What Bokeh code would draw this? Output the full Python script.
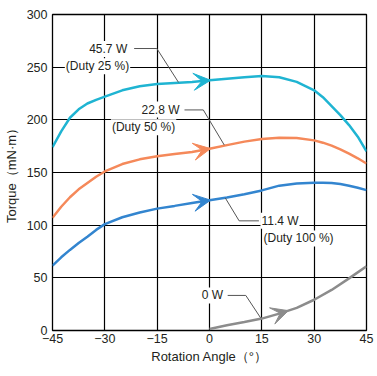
import numpy as np
from bokeh.plotting import figure
from bokeh.models import Label, Arrow, VeeHead, FixedTicker
from bokeh.embed import file_html
from bokeh.resources import INLINE

# ---- data ----
angles = [-45, -42.5, -40, -37.5, -35, -32.5, -30, -25, -20, -15, -10, -5, 0, 5, 10, 15, 20, 25,
          30, 32.5, 35, 37.5, 40, 42.5, 45]
torque_45_7W = [174, 189, 202, 210, 215.5, 219, 222, 228, 231.8, 234, 235, 236, 237.5, 239, 240.5, 241.5, 240.5, 236,
                228, 221.5, 213, 204.5, 195, 184, 170]
torque_22_8W = [107, 117.5, 126.5, 134, 140, 146, 151, 158, 162.5, 165.5, 167.5, 169.5, 172.5, 176, 179.3, 181.7, 183, 182.8,
                180.5, 178.3, 175.5, 172, 168, 163.5, 158.5]
torque_11_4W = [61.5, 69.5, 76.5, 83, 89, 95.5, 101, 107.5, 112, 115.7, 118.3, 121, 123.6, 126.3, 129.3, 133, 137.5, 139.5,
                140.3, 140.3, 140, 139, 137.5, 135.5, 133.3]
angles_0W = [0, 5, 10, 15, 20, 25, 30, 35, 40, 45]
torque_0W = [1.5, 5, 8, 11.3, 16, 21.5, 29.2, 38.5, 49.5, 61]

x_ticks = [-45, -30, -15, 0, 15, 30, 45]
x_tick_labels = ["\u221245", "\u221230", "\u221215", "0", "15", "30", "45"]
y_ticks = [0, 50, 100, 150, 200, 250, 300]

series_names = ["45.7 W", "22.8 W", "11.4 W", "0 W"]
duty_names = ["(Duty 25 %)", "(Duty 50 %)", "(Duty 100 %)"]
arrow_at = [0.3, 0.3, 0.3, 22.6]

# ---- styling / layout ----
colors = ["#1fb4d2", "#f5895a", "#3385cf", "#8c8c8c"]
FONT = "Liberation Sans"
TXT = "#231f20"

p = figure(width=377, height=376, x_range=(-45, 45), y_range=(0, 300),
           output_backend="svg", toolbar_location=None,
           min_border_left=49, min_border_right=11, min_border_top=14, min_border_bottom=46)

p.xaxis.ticker = FixedTicker(ticks=x_ticks)
p.yaxis.ticker = FixedTicker(ticks=y_ticks)
p.xaxis.major_label_overrides = {t: l for t, l in zip(x_ticks, x_tick_labels)}
for ax in p.axis:
    ax.axis_line_color = None
    ax.major_tick_line_color = None
    ax.minor_tick_line_color = None
    ax.major_tick_in = 0
    ax.major_tick_out = 0
    ax.major_label_text_font = FONT
    ax.major_label_text_font_size = "12.5px"
    ax.major_label_text_color = TXT
    ax.axis_label_text_font = FONT
    ax.axis_label_text_font_size = "13px"
    ax.axis_label_text_font_style = "normal"
    ax.axis_label_text_color = TXT
p.xaxis.axis_label = "Rotation Angle\uff08\u00b0\uff09"
p.yaxis.axis_label = "Torque\uff08mN\u00b7m\uff09"
p.xaxis.major_label_standoff = 3
p.xaxis.axis_label_standoff = 3
p.yaxis.major_label_standoff = 5
p.yaxis.axis_label_standoff = 5

p.grid.grid_line_color = "black"
p.grid.grid_line_width = 1.2
p.outline_line_color = "black"
p.outline_line_width = 1.3
p.outline_line_alpha = 1

# curves
curves = [(angles, torque_45_7W), (angles, torque_22_8W), (angles, torque_11_4W), (angles_0W, torque_0W)]
for (xs, ys), c in zip(curves, colors):
    p.line(xs, ys, line_color=c, line_width=2.5)

# arrowheads on curves
for (xs, ys), c, pos in zip(curves, colors, arrow_at):
    tip = float(np.interp(pos, xs, ys))
    tail = float(np.interp(pos - 3, xs, ys))
    p.add_layout(Arrow(end=VeeHead(size=17, fill_color=c, line_color=c, line_width=1),
                       x_start=pos - 3, y_start=tail, x_end=pos, y_end=tip,
                       line_alpha=0))

# leader lines
leaders_x = [[-21.6, -15.1, -8.87], [-7.17, -1.78, 4.25], [4.53, 8.5, 14.16], [5.21, 10.4, 14.65]]
leaders_y = [[267.7, 267.7, 235.5], [209.4, 209.4, 176], [125.8, 104.1, 104.1], [33.3, 33.3, 12]]
for lx, ly in zip(leaders_x, leaders_y):
    p.line(lx, ly, line_color="#555555", line_width=1)

# labels
label_specs = [
    (series_names[0], -23.3, 267.3, "right"),
    (duty_names[0], -32.1, 250.8, "center"),
    (series_names[1], -8.3, 209.7, "right"),
    (duty_names[1], -18.9, 193, "center"),
    (series_names[2], 14.6, 104.1, "left"),
    (duty_names[2], 15.2, 87.4, "left"),
    (series_names[3], 4.2, 33.3, "right"),
]
for t, x, y, al in label_specs:
    p.add_layout(Label(x=x, y=y, text=t, text_align=al, text_baseline="middle",
                       text_font=FONT, text_font_size="12px", text_color=TXT,
                       background_fill_color="white", padding=1))

open("out.html", "w").write(file_html(p, INLINE))
